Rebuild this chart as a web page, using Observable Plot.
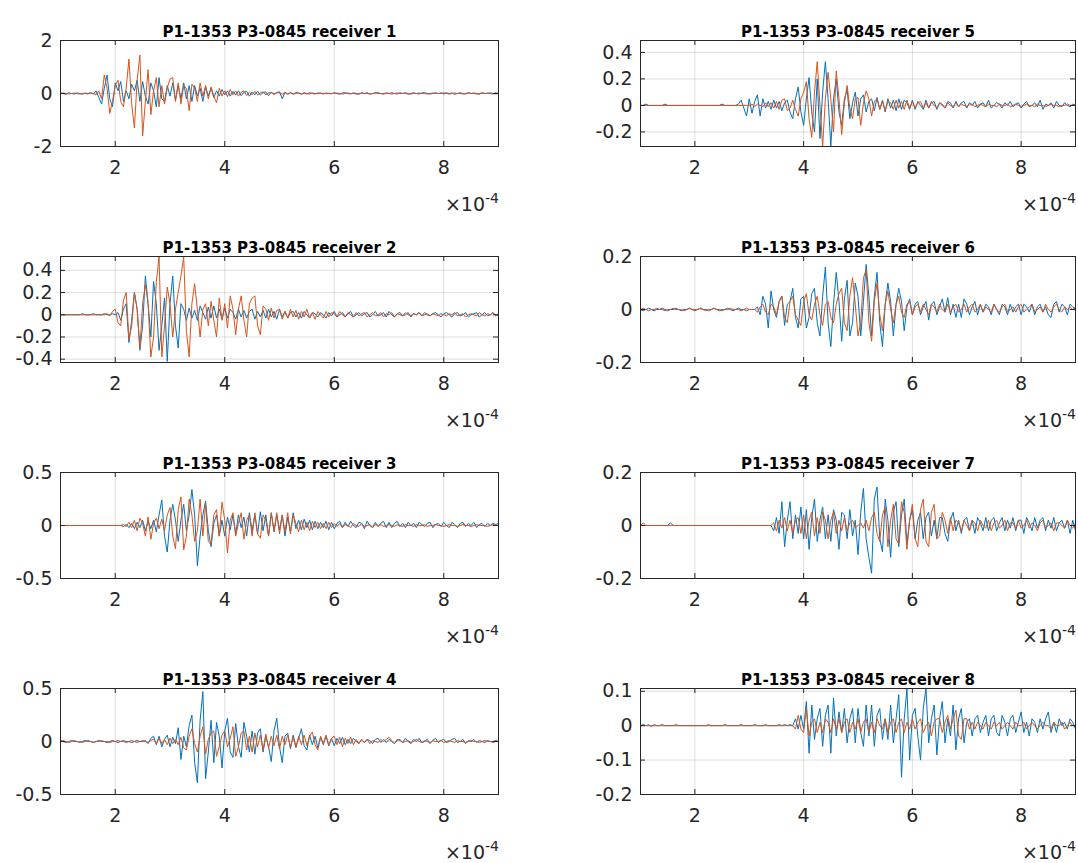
<!DOCTYPE html>
<html><head><meta charset="utf-8">
<script src="https://cdn.jsdelivr.net/npm/d3@7"></script>
<script src="https://cdn.jsdelivr.net/npm/@observablehq/plot@0.6"></script>
<style>
body{margin:0;background:#fff;}
#fig{position:relative;width:1078px;height:863px;overflow:hidden;font-family:"DejaVu Sans",sans-serif;}
.panel{position:absolute;}
.exp{position:absolute;font-size:19px;line-height:19px;color:#262626;white-space:nowrap;font-family:"DejaVu Sans",sans-serif;}
.exp span{font-size:14px;position:relative;top:-8px;}
</style></head><body><div id="fig"></div>
<script>
// sampling of every trace (time in units of 1e-4 s)
const sampleStart = 1.0, sampleStep = 0.05;
const xTicks = [2, 4, 6, 8];
const titles = ["P1-1353 P3-0845 receiver 1","P1-1353 P3-0845 receiver 2","P1-1353 P3-0845 receiver 3","P1-1353 P3-0845 receiver 4",
                "P1-1353 P3-0845 receiver 5","P1-1353 P3-0845 receiver 6","P1-1353 P3-0845 receiver 7","P1-1353 P3-0845 receiver 8"];
const yTicks = [[-2,0,2],[-0.4,-0.2,0,0.2,0.4],[-0.5,0,0.5],[-0.5,0,0.5],[-0.2,0,0.2,0.4],[-0.2,0,0.2],[-0.2,0,0.2],[-0.2,-0.1,0,0.1]];
const yLimits = [[-2,2],[-0.43,0.525],[-0.5,0.5],[-0.5,0.5],[-0.31,0.49],[-0.2,0.2],[-0.2,0.2],[-0.2,0.108]];

const r1Blue = [
0.02,0,-0.03,0.03,0,-0.02,0.02,0,-0.03,0.02,0,0.03,-0.02,0.1,-0.15,-0.4,0.2,0.7,-0.2,-0.5,
0.4,0.1,0.45,-0.3,0.1,-0.2,0.35,0.1,0.5,-0.3,0.45,-0.1,-0.4,0.4,0.1,-0.5,0.6,-0.2,-0.3,0.3,
-0.1,0.4,-0.25,0.3,-0.2,0.4,-0.2,0.3,-0.3,0.3,-0.1,0.2,-0.3,0.25,-0.1,0.2,-0.15,0.1,-0.1,0.15,
-0.05,0.1,-0.1,0.08,-0.06,0.1,-0.08,0.05,0.08,-0.1,0.06,-0.05,0.08,-0.06,0.04,0.06,-0.08,0.05,-0.03,0.04,
0.06,-0.2,0.05,-0.03,0.04,-0.02,0.03,0.02,-0.03,0.02,-0.02,0.03,0,-0.02,0.02,0.01,-0.02,0.02,0,-0.01,
0.03,0,-0.03,0.02,0.03,0,-0.02,0.03,0,-0.03,0.02,0,0.03,-0.02,0,0.02,0.03,0,-0.03,0.02,
0,0.03,0,-0.02,0.03,0,0.02,-0.03,0,0.03,0,-0.02,0.02,0.03,0,-0.02,0,0.03,0,0.02,
-0.02,0.03,0,0.02,-0.03,0,0.03,0,-0.02,0.03,0,0.02,0,-0.03,0.03,0,0.02,0,-0.02,0.03,
0];
const r1Orange = [
0,0.02,0,-0.02,0,0.02,0,-0.02,0.01,0,-0.02,0.02,0,-0.05,0.1,-0.2,0.7,0.2,-0.75,-0.3,
0.3,0.5,-0.3,-0.5,0.2,1.3,-0.4,-1.3,0.5,1.45,-1.6,-0.3,0.9,-0.8,0.1,0.6,-0.5,0.3,-0.4,0.2,
0.55,0.6,-0.3,0.4,-0.4,0.3,0.2,-0.65,0.35,0.2,-0.3,0.4,-0.1,0.3,-0.2,0.25,-0.1,-0.35,0.2,-0.1,
0.1,-0.12,0.15,-0.05,0.1,-0.1,0.05,0.1,-0.08,0.05,-0.05,0.08,-0.06,0.03,0.06,-0.05,0.02,0.04,-0.04,0.02,
0.05,-0.03,0.04,-0.02,0.03,-0.03,0.01,0.02,-0.02,0.03,0,-0.02,0.02,0,-0.01,0.02,0,-0.01,0.01,0,
0,0.02,0,-0.02,0,0.02,0,0,-0.02,0,0.02,0,0,-0.02,0,0.02,0,0,0,0.02,
0,-0.02,0,0.02,0,0,0.03,0,-0.02,0,0,0.02,0,0,-0.02,0,0.02,0,0,0,
0.03,0,-0.02,0,0.02,0,0,-0.02,0,0.03,0,0,-0.02,0,0.02,0,0,0.03,0,-0.02,
0];
const r2Blue = [
0,0,0,0,0,0,0,0,0.01,0,0,0,0.01,0,0,0,0.01,0,0,0.01,
0,0.02,-0.05,0.05,0.1,-0.25,-0.05,0.2,0.05,-0.32,-0.1,0.35,0.1,-0.2,0.3,0.1,-0.32,-0.1,0.15,-0.42,
0.1,0.35,-0.1,-0.3,0.1,0.05,-0.05,0.06,-0.03,0.04,-0.05,0.08,0.02,-0.04,0.07,-0.03,0.08,-0.03,0.05,-0.04,
0.06,-0.03,0.05,0.02,-0.04,0.05,-0.02,0.04,-0.03,0.03,0.05,-0.04,0.03,-0.02,0.04,-0.03,0.05,-0.02,0.03,-0.04,
0.05,-0.02,0.03,-0.03,0.02,0.03,-0.02,0.02,-0.03,0.03,0,-0.03,0.02,0.01,-0.02,0.02,0,-0.03,0.02,-0.01,
0.03,-0.02,0,0.02,-0.02,0.01,0.03,-0.02,0,0.02,-0.01,0.01,0.02,-0.02,0,0.03,-0.01,0,0.02,-0.02,
0.03,0,-0.02,0.01,0.02,-0.01,0,0.02,-0.02,0.01,0,0.02,-0.01,0.02,0,-0.01,0.01,0.02,0,-0.02,
0.01,0.02,0,-0.02,0.01,0.02,-0.01,0,0.02,-0.02,0,0.01,0.02,-0.02,0,0.02,-0.01,0,0.02,-0.01,
0.01];
const r2Orange = [
0,0,0,0,0,0,0,0,0,0,0,0,0,0,0,0,0,0.01,-0.01,0.03,
0.05,-0.07,-0.1,0.13,0.2,-0.22,-0.1,0.2,0.05,-0.3,0.1,0.27,0.1,-0.38,-0.2,0.3,0.52,-0.38,-0.1,0.25,
0.1,-0.2,0.05,0.2,0.35,0.52,-0.15,-0.38,0.1,0.28,0.05,-0.2,0.05,0.1,-0.1,0.12,-0.05,-0.2,0.15,-0.05,
0.1,-0.12,0.17,0.05,-0.18,0.05,0.17,-0.05,-0.2,0.1,0.15,0.17,-0.1,-0.18,0.08,0.05,-0.05,0.06,-0.03,0.04,
0.05,-0.04,0.03,-0.03,0.05,-0.02,0.04,-0.04,0.03,-0.02,0.05,-0.03,0.02,-0.04,0.03,0,-0.03,0.03,-0.02,0.02,
0.01,-0.02,0.03,0,-0.02,0.02,0,-0.02,0.02,-0.01,0.01,0.02,-0.02,0,0.02,-0.01,0,0.02,-0.02,0.01,
0,0.02,-0.02,0.01,0,-0.01,0.02,0,-0.01,0.01,0,0.02,-0.01,0,0.01,-0.01,0.01,0,-0.01,0.01,
0,-0.01,0.01,0,0.02,-0.01,0,0.01,-0.02,0,0.01,0,-0.01,0.02,0,-0.01,0.01,0,0.02,-0.01,
0];
const r3Blue = [
0,0,0,0,0,0,0,0,0,0,0,0,0,0,0,0,0,0,0,0,
0,0,0,-0.01,0.01,-0.02,0.02,-0.03,0.03,-0.02,0.05,-0.05,0.04,-0.03,0.05,-0.06,0.1,0.24,-0.1,-0.25,
0.05,0.2,0.05,-0.15,0.05,0.2,-0.05,0.1,0.34,0.1,-0.38,-0.1,0.1,0.23,-0.05,-0.2,0.02,0.1,-0.1,0.05,
-0.1,0.08,-0.04,0.1,-0.08,0.1,-0.02,0.08,-0.1,0.12,-0.05,0.1,-0.08,0.13,-0.05,0.1,-0.1,0.12,-0.06,0.1,
-0.04,0.1,-0.1,0.08,-0.06,0.12,-0.03,0.05,-0.04,0.06,-0.02,0.05,-0.04,0.04,-0.03,0.03,-0.02,0.04,-0.04,0.03,
-0.03,0.02,0.04,-0.02,0.03,-0.01,0.04,0,-0.02,0.03,0.02,-0.03,0.04,0,-0.02,0.03,-0.01,0.02,0.04,-0.02,
0.03,-0.02,0.02,0.04,-0.01,0.02,-0.02,0.03,0,0.02,-0.02,0.03,0.01,-0.01,0.02,0.03,-0.02,0.01,0.02,-0.01,
0.03,0,-0.02,0.03,0.01,-0.02,0.02,0.03,-0.01,0.02,0,0.03,-0.02,0.01,0.02,-0.01,0.02,0,0.02,0.01,
0.02];
const r3Orange = [
0,0,0,0,0,0,0,0,0,0,0,0,0,0,0,0,0,0,0,0,
0,0,0,0.01,-0.01,0.03,-0.02,0.05,-0.05,0.07,0.02,-0.1,0.08,-0.13,0.02,0.07,-0.03,0.06,-0.05,0.1,
0.17,-0.1,-0.22,0.15,0.27,-0.23,-0.1,0.25,0.1,-0.15,-0.05,0.25,-0.1,0.2,-0.15,-0.18,0.1,0.15,-0.1,0.22,
0.05,-0.26,0.05,0.12,-0.1,0.02,0.12,-0.13,0.05,0.1,-0.1,0.12,-0.08,-0.12,0.1,0.05,-0.1,0.12,-0.05,0.12,
-0.08,0.1,-0.06,0.12,-0.08,0.1,0.02,-0.06,0.05,-0.04,0.03,-0.05,0.04,-0.02,0.03,-0.03,0.02,-0.03,0.03,-0.02,
0.02,-0.01,0.02,-0.02,0.01,0,-0.02,0.02,0,-0.01,0.02,-0.01,0,0.01,-0.02,0.01,0,0.01,-0.01,0,
0.01,0,-0.01,0.01,0,-0.01,0.01,0,0,-0.01,0.01,0,0,0.01,-0.01,0,0,0.01,0,0,
-0.01,0,0.01,0,0,-0.01,0,0.01,0,0,-0.01,0,0.01,0,0,0,-0.01,0,0.01,0,
0];
const r4Blue = [
0.01,0,-0.01,0,0.01,0,0,-0.01,0,0.01,0,0,-0.01,0,0.01,0,0,-0.01,0,0.01,
0,-0.01,0,0.01,0,0,-0.01,0,0.01,0,0,0.01,-0.02,0.03,0.05,-0.03,0.05,-0.05,0.02,0.06,
-0.05,0.04,-0.02,0.13,-0.17,0.05,-0.05,0.15,0.25,-0.2,-0.39,0.2,0.47,-0.35,-0.1,0.2,-0.2,0.18,0.05,-0.25,
0.1,0.22,-0.1,-0.15,0.17,-0.05,-0.15,0.18,0.05,-0.1,0.1,-0.12,0.08,0.12,-0.1,0.05,-0.05,-0.19,0.1,0.22,
-0.05,-0.2,0.05,0.08,-0.07,0.06,-0.05,0.03,0.12,-0.04,-0.08,0.06,-0.03,0.05,-0.06,0.04,-0.03,0.05,-0.04,0.03,
-0.04,0.03,-0.02,0.04,-0.03,0.02,-0.02,0.03,0,-0.02,0.02,-0.01,0.02,0.01,-0.02,0.02,0.03,-0.01,0.02,-0.01,
0.02,0,-0.02,0.02,0.01,-0.01,0.03,0,-0.02,0.02,0,0.03,-0.01,0,0.02,-0.02,0.01,0.03,-0.01,0.01,
0.02,-0.01,0,0.02,0.03,-0.01,0,0.02,-0.02,0.01,0,0.02,-0.01,0.01,0,-0.01,0.01,0,0,0.01,
0];
const r4Orange = [
0,0.01,0,-0.01,0,0.01,0,0,-0.01,0,0.01,0,-0.01,0,0,0.01,0,0,-0.01,0,
0,0.01,0,0,-0.01,0,0.01,0,-0.01,0,0.01,0,-0.01,0.01,0.02,-0.02,0.03,-0.02,0.02,-0.03,
0.03,-0.02,0.02,-0.03,0.04,-0.06,-0.08,0.05,0.12,-0.02,-0.1,0.05,0.14,-0.12,0.02,0.08,0.1,-0.14,-0.05,0.06,
0.1,-0.05,0.03,0.14,-0.14,-0.05,0.08,0.1,-0.08,0.05,-0.1,0.08,-0.05,0.06,-0.08,0.07,-0.06,0.05,-0.04,0.06,
-0.07,0.05,-0.03,0.06,-0.05,0.04,-0.06,0.05,-0.03,0.06,-0.04,0.05,0.09,-0.03,-0.08,0.05,-0.02,0.06,-0.04,0.03,
0.05,-0.03,0.04,-0.05,0.03,-0.02,0.04,-0.03,0.02,-0.02,0.02,-0.01,0.02,-0.02,0.01,0,-0.01,0.02,0,0.02,
0.04,0.01,-0.02,0.01,0.02,-0.01,0,0.01,-0.01,0,0.02,0,-0.01,0.01,0,-0.01,0.01,0,0,0.01,
-0.01,0,0.01,0,-0.01,0.01,0,0,-0.01,0,0.01,0,0,-0.01,0,0.01,0,0,-0.01,0,
0];
const r5Blue = [
0,0,0.01,0,0,0,0,0,0,0.01,0,0,0,0,0,0,0,0,0,0,
0,0,0,0,0,0,0,0,0,0,0.01,0,0,0,0,0,0.01,0.04,-0.02,-0.08,
0.05,-0.06,0.03,0.08,-0.08,0.05,-0.02,0.03,-0.03,0.04,-0.02,0.03,-0.04,0.02,0.04,-0.05,-0.1,0.05,0.14,-0.05,
-0.15,0.05,0.21,-0.05,-0.2,0.2,-0.25,0.1,0.33,0.05,-0.31,0.05,0.2,-0.05,-0.15,0.05,0.12,-0.1,0.02,0.1,
-0.08,0.05,0.08,-0.05,0.03,0.05,-0.04,0.06,-0.03,0.04,-0.05,0.05,-0.02,0.04,-0.04,0.05,-0.03,0.04,0.02,-0.03,
0.04,-0.03,0.03,0,-0.03,0.04,-0.02,0.02,0.03,-0.03,0.02,0,-0.02,0.03,0.02,-0.02,0.03,-0.01,0.02,0.03,
-0.02,0.02,0,0.03,-0.02,0.01,0.02,-0.01,0.04,-0.02,0,0.02,0.01,-0.02,0.02,0,0.03,-0.01,0.01,0.02,
-0.02,0.01,0.03,-0.01,0,0.02,-0.01,0.04,-0.03,0.01,0,0.02,-0.02,0.03,0,-0.01,0.02,0,-0.01,0.01,
0];
const r5Orange = [
0,0,0,0,0,0,0,0,0,0,0,0,0,0,0,0,0,0,0,0,
0,0,0,0,0,0,0,0,0,0,0,0,0,0,0,0,0,0,0,0,
0,0.01,-0.01,0.01,0,-0.01,0.02,-0.01,0.02,-0.02,0.03,-0.03,0.04,0.05,-0.04,-0.02,0.04,-0.03,-0.08,0.05,
0.1,0.18,-0.1,-0.24,0.1,0.33,0,-0.31,0.05,0.25,0.05,-0.2,0.26,0.05,-0.22,0.02,0.15,-0.02,-0.1,0.05,
0.06,-0.15,0.02,0.11,0.05,-0.08,0.03,0.05,-0.03,0.03,-0.04,0.03,0.02,-0.03,0.04,-0.02,0.03,-0.03,0.04,-0.02,
0.03,-0.02,0.02,0.03,-0.02,0.02,-0.02,0.03,0,-0.02,0.02,0.01,-0.02,0.02,0,-0.01,0.02,-0.01,0.01,0,
-0.01,0.01,0.01,-0.01,0,0.01,0,-0.01,0.01,0,0,-0.01,0.01,0,0,0.01,-0.01,0,0.01,0,
-0.01,0,0.01,0,0,-0.01,0.01,0,0,-0.01,0,0.01,0,0,-0.01,0,0,0.01,0,0,
0];
const r6Blue = [
0,-0.005,0,0.005,0,-0.005,0,0,0.005,0,-0.005,0,0,0.005,0,-0.005,0,0,0.005,0,
-0.005,0,0.005,0,0,-0.005,0,0.005,0,-0.005,0,0,0.005,0,-0.005,0,0.005,0,0,-0.005,
0,0,0,0.01,-0.02,0.05,0.02,-0.07,0.07,0,-0.03,0.03,0.05,-0.06,0.02,0.03,0.08,-0.03,-0.07,0.04,
0.05,-0.07,-0.03,0.06,0.08,-0.05,-0.1,0.05,0.16,-0.05,-0.14,0.02,0.14,0.03,-0.12,0.04,0.11,-0.1,-0.05,0.1,
0.05,-0.1,0.03,0.17,0.05,-0.1,0.05,0.14,-0.05,-0.14,0.02,0.1,0.03,-0.1,0.02,0.08,0.03,-0.08,0.01,0.04,
-0.02,0.02,0.03,-0.02,0.01,0.03,-0.04,0.02,0.03,-0.02,0.01,0.04,-0.01,0.045,-0.02,0.02,-0.03,0.02,-0.03,0.04,
0.02,-0.02,0.01,0.03,-0.02,0.02,-0.01,0.02,0.01,-0.02,0.02,0,-0.02,0.02,0.01,-0.02,0.02,-0.01,0.01,0.02,
-0.02,0.02,0.01,-0.01,0.02,-0.02,0.01,0.02,-0.01,0.01,-0.02,-0.03,0.02,0.03,-0.01,0.02,0.01,-0.02,0.02,0.01,
0];
const r6Orange = [
0,0.005,0,-0.005,0,0,0.005,0,0,-0.005,0,0,0.005,0,0,0,-0.005,0,0.005,0,
0,0,0.005,0,-0.005,0,0,0.005,0,0,-0.005,0,0,0.005,0,0,0,-0.005,0,0.005,
0,0,0,-0.01,0.01,0.02,-0.01,-0.02,0.02,0.01,-0.02,0.03,0.05,-0.03,-0.05,0.03,0.05,-0.02,-0.04,-0.06,
0.03,0.06,-0.02,-0.04,0.02,0.05,-0.02,-0.06,0.02,0.03,-0.03,-0.05,0.02,0.06,0.08,-0.05,-0.08,0.05,0.12,0.02,
-0.1,-0.05,0.12,0.15,-0.05,-0.12,0.03,0.1,-0.02,-0.08,0.02,0.07,0,-0.05,0.02,0.05,-0.01,-0.03,0.02,0.03,
-0.02,0.01,0.02,-0.01,0.02,0,-0.02,0.02,0.01,-0.01,0.02,0,-0.01,0.02,-0.01,0.01,0.02,-0.01,0,0.02,
-0.01,0.01,0.02,-0.01,0,0.02,-0.01,0.01,0,-0.01,0.02,0,-0.01,0.01,0.02,-0.01,0,0.01,-0.01,0.01,
0.02,-0.01,0,0.01,0.02,-0.01,0,0.01,-0.01,0.02,0,-0.01,0.01,0.02,0,-0.01,0.01,0,0.01,0,
0.01];
const r7Blue = [
0,0,0,0,0,0,0,0,0,0,0,0.01,0,0,0,0,0,0,0,0,
0,0,0,0,0,0,0,0,0,0,0,0,0,0,0,0,0,0,0,0,
0,0,0,0,0,0,0,0,0,-0.02,0.03,-0.03,0.09,-0.08,0.02,0.09,-0.05,0.04,-0.03,0.07,
-0.05,0.06,-0.09,0.03,0.1,-0.06,0.02,0.07,-0.05,0.04,-0.06,0.06,0.02,-0.09,0.05,0.04,-0.05,0.06,-0.04,0.02,
-0.11,0.05,0.14,-0.05,-0.12,-0.18,0.1,0.145,-0.05,-0.1,0.1,0.02,-0.12,0.05,0.09,-0.08,0.04,0.1,-0.07,0.02,
0.06,-0.05,0.02,0.05,-0.05,0.03,0.05,-0.04,0.02,-0.05,0.03,0.03,-0.03,-0.06,0.02,0.05,-0.02,0.02,-0.03,0.02,
0.03,-0.02,0.02,-0.03,0.03,0.01,-0.02,0.03,-0.02,0.02,0.03,-0.02,0.01,0.03,-0.02,0.02,-0.01,0.03,-0.02,0.02,
0.02,-0.03,0.03,0.01,-0.02,0.03,-0.01,0.02,0.03,-0.02,0.02,-0.01,0.03,-0.02,0.01,0.02,-0.01,0.02,-0.03,0.02,
-0.02];
const r7Orange = [
0,0.01,0,0,0,0,0,0,0,0,0,0,0,0,0,0,0,0,0,0,
0,0,0,0,0,0,0,0,0,0,0,0,0,0,0,0,0,0,0,0,
0,0,0,0,0,0,0,0,0,0.01,-0.02,0.02,-0.01,0.03,-0.02,0.02,-0.03,0.02,0.03,-0.03,
0.04,-0.05,0.02,0.05,-0.04,0.03,-0.03,0.05,0.02,-0.05,0.02,0.05,-0.03,0.02,-0.02,0.03,-0.02,0.01,0.02,-0.01,
0,0.01,-0.01,0.02,-0.02,0.03,0.05,-0.03,-0.06,0.04,0.07,-0.08,0.02,0.08,-0.05,-0.07,0.09,0.05,-0.09,0.02,
0.08,-0.05,-0.08,0.06,0.1,-0.06,-0.08,0.05,0.08,-0.05,-0.04,0.05,0.02,-0.03,0.03,-0.02,0.02,0.01,-0.02,0.02,
0,-0.02,0.02,0.01,-0.02,0.02,0,-0.01,0.02,-0.02,0.01,0.02,-0.01,0,0.02,-0.02,0.01,0.01,-0.01,0.02,
-0.01,0,0.02,-0.01,0.01,0,-0.02,0.01,0.02,-0.01,0,0.01,-0.02,0.01,0.01,0,-0.01,0.02,0,-0.01,
0.01];
const r8Blue = [
0,0.003,0,0.003,-0.003,0.003,0,0,0.003,0,0,0,0,0.003,0,0,0,0,0,0,
0,0,0,0,0,0.003,0,0,0,0,0,0.003,0,0,0,0,0,0.003,0,0,
0,0,0.003,0,0,0,0.003,0,0,0,0,0.003,0,0.003,0,0.003,0,0.02,-0.01,0.03,
-0.01,0.07,-0.08,0.06,-0.04,0.02,0.05,-0.06,0.03,0.06,-0.08,0.08,-0.03,0.04,-0.02,0.05,-0.05,0.02,0.05,-0.05,
0.05,-0.02,-0.06,0.06,-0.03,0.06,-0.06,0.03,0.05,-0.04,0.02,-0.04,0.06,-0.05,0.02,0.09,-0.15,0.02,0.108,-0.1,
0.03,0.05,-0.03,-0.1,0.05,0.108,-0.05,0.02,0.06,-0.085,0.02,0.07,-0.05,0.02,-0.03,0.06,-0.07,0.02,0.05,-0.05,
0.01,0.02,-0.03,0.02,0.03,-0.02,0.01,0.03,-0.03,0.02,0.03,-0.02,-0.03,0.03,0.01,-0.03,0.02,0.03,-0.02,0.01,
0.04,-0.02,0.01,-0.03,0.02,0.01,-0.02,0.02,-0.01,0.02,0.04,-0.02,0.01,-0.02,0.02,0,0.01,-0.01,0.02,0.01,
-0.01];
const r8Orange = [
0,0,0,0,0,0,0,0,0,0,0,0,0,0,0,0,0,0,0,0,
0,0,0,0,0,0,0,0,0,0,0,0,0,0,0,0,0,0,0,0,
0,0,0,0,0,0,0,0,0,0,0,0,0,0,0,0,0,-0.01,0.03,-0.01,
-0.02,0.05,-0.03,0.01,0.02,-0.02,0.01,-0.02,0.02,0.01,-0.02,0.02,-0.01,0.02,-0.02,0.01,0.02,-0.02,0.01,-0.01,
0.02,-0.02,0.01,0.02,-0.02,0.01,-0.02,0.02,0,-0.01,0.02,-0.02,0.01,0.02,-0.02,0.01,0.02,-0.02,0.01,-0.01,
0.02,-0.01,0.01,0.02,-0.02,0,0.01,-0.03,0.01,0.02,0.02,-0.02,0.01,0.03,-0.01,0.02,0.045,-0.03,-0.04,0.02,
0.02,-0.01,0.01,-0.01,0.01,0,-0.01,0.01,0,-0.01,0.01,0,0.01,-0.01,0,0.01,0,-0.01,0.01,0,
0,0.01,-0.01,0,0.01,0,-0.01,0,0.01,0,0,-0.01,0.01,0,0,0.01,-0.01,0,0.01,0,
0];

const blueSeries = [r1Blue, r2Blue, r3Blue, r4Blue, r5Blue, r6Blue, r7Blue, r8Blue];
const orangeSeries = [r1Orange, r2Orange, r3Orange, r4Orange, r5Orange, r6Orange, r7Orange, r8Orange];

const BLUE = "#0072BD", ORANGE = "#D95319", INK = "#262626";
const FONT = '"DejaVu Sans", sans-serif';
const toRows = vals => vals.map((v, i) => ({t: sampleStart + i * sampleStep, v}));

// layout
const cols = [{left: 0, width: 540, boxL: 60, boxR: 498}, {left: 540, width: 538, boxL: 640, boxR: 1075}];
const boxTops = [40, 256, 472, 688];
const boxH = 106, mTop = 36, mBottom = 34;
const fig = document.getElementById("fig");

for (let p = 0; p < 8; p++) {
  const col = cols[Math.floor(p / 4)];
  const row = p % 4;
  const mL = col.boxL - col.left, mR = col.left + col.width - col.boxR;
  const plotW = col.boxR - col.boxL;
  const yt = yTicks[p];
  const chart = Plot.plot({
    width: col.width, height: mTop + boxH + mBottom,
    marginLeft: mL, marginRight: mR, marginTop: mTop, marginBottom: mBottom,
    style: {fontFamily: FONT, color: INK, background: "transparent", overflow: "visible"},
    x: {domain: [1, 9], label: null},
    y: {domain: yLimits[p], label: null},
    marks: [
      Plot.gridX(xTicks, {stroke: INK, strokeOpacity: 0.15}),
      Plot.gridY(yt, {stroke: INK, strokeOpacity: 0.15}),
      Plot.line(toRows(blueSeries[p]), {x: "t", y: "v", stroke: BLUE, strokeWidth: 1, curve: "linear", clip: true}),
      Plot.line(toRows(orangeSeries[p]), {x: "t", y: "v", stroke: ORANGE, strokeWidth: 1, curve: "linear", clip: true}),
      Plot.tickY(yt, {y: d => d, insetRight: plotW - 5, stroke: INK}),
      Plot.tickY(yt, {y: d => d, insetLeft: plotW - 5, stroke: INK}),
      Plot.tickX(xTicks, {x: d => d, insetTop: boxH - 5, stroke: INK}),
      Plot.tickX(xTicks, {x: d => d, insetBottom: boxH - 5, stroke: INK}),
      Plot.frame({stroke: INK, strokeWidth: 1}),
      Plot.axisY(yt, {tickSize: 0, tickPadding: 8, fontSize: 19, tickFormat: d => String(d), label: null}),
      Plot.axisX(xTicks, {tickSize: 0, tickPadding: 14, fontSize: 19, tickFormat: d => String(d), label: null}),
      Plot.text([titles[p]], {text: d => d, frameAnchor: "top", dy: -14, fontSize: 15, fontWeight: "bold", fill: "#000"})
    ]
  });
  const wrap = document.createElement("div");
  wrap.className = "panel";
  wrap.style.left = col.left + "px";
  wrap.style.top = (boxTops[row] - mTop) + "px";
  wrap.appendChild(chart);
  fig.appendChild(wrap);

  const exp = document.createElement("div");
  exp.className = "exp";
  exp.innerHTML = "×10<span>-4</span>";
  exp.style.right = (1078 - col.boxR - 1) + "px";
  exp.style.top = (boxTops[row] + boxH + 49) + "px";
  fig.appendChild(exp);
}
</script>
</body></html>
